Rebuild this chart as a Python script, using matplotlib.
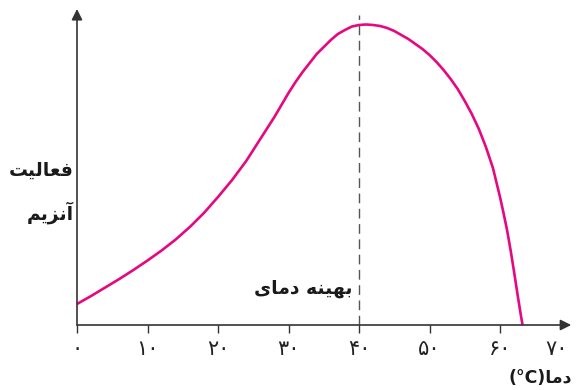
import numpy as np
import matplotlib.pyplot as plt

# داده‌ها (از روی شکل خوانده شده)
dama = [0, 2, 4, 6, 8, 10, 12, 14, 16, 18, 20, 22, 24, 26, 28, 30, 31, 32, 33, 34, 35, 36, 37,
        38, 39, 40, 41, 42, 43, 44, 45, 46, 47, 48, 49, 50, 51, 52, 53, 54, 55, 56, 57, 58,
        59, 60, 60.5, 61, 61.5, 62, 62.5, 63, 63.2]
faaliat = [21, 29, 37.5, 46, 55, 64.5, 74.5, 85.5, 98, 112, 128, 145, 164, 186, 208, 232, 243, 253, 262,
           271, 278, 285, 291, 295, 298.5, 300, 300.5, 300, 299, 297, 294, 290, 286, 281, 276,
           270, 263, 255, 246, 236, 224, 211, 196, 178, 157, 128, 112, 95, 75, 53, 30, 8, 0]
xticks = [0, 10, 20, 30, 40, 50, 60]
xlabels = ["۰", "۱۰", "۲۰", "۳۰", "۴۰", "۵۰", "۶۰"]
last_label = "۷۰"
optimum = 40

# شکل‌دهی ساده حروف فارسی (matplotlib خودش اتصال حروف را انجام نمی‌دهد)
forms = {
    "ف": ("\uFED1", "\uFED2", "\uFED3", "\uFED4"),
    "ع": ("\uFEC9", "\uFECA", "\uFECB", "\uFECC"),
    "ا": ("\uFE8D", "\uFE8E", None, None),
    "آ": ("\uFE81", "\uFE82", None, None),
    "ل": ("\uFEDD", "\uFEDE", "\uFEDF", "\uFEE0"),
    "ی": ("\uFBFC", "\uFBFD", "\uFBFE", "\uFBFF"),
    "ت": ("\uFE95", "\uFE96", "\uFE97", "\uFE98"),
    "ن": ("\uFEE5", "\uFEE6", "\uFEE7", "\uFEE8"),
    "ز": ("\uFEAF", "\uFEB0", None, None),
    "م": ("\uFEE1", "\uFEE2", "\uFEE3", "\uFEE4"),
    "د": ("\uFEA9", "\uFEAA", None, None),
    "ب": ("\uFE8F", "\uFE90", "\uFE91", "\uFE92"),
    "ه": ("\uFEE9", "\uFEEA", "\uFEEB", "\uFEEC"),
}


def fa(s):
    out = []
    for i, c in enumerate(s):
        if c not in forms:
            out.append(c)
            continue
        prev = s[i - 1] if i > 0 else ""
        nxt = s[i + 1] if i + 1 < len(s) else ""
        jp = prev in forms and forms[prev][2] is not None
        jn = forms[c][2] is not None and nxt in forms
        f = forms[c]
        if jp and jn:
            out.append(f[3])
        elif jp:
            out.append(f[1])
        elif jn:
            out.append(f[2])
        else:
            out.append(f[0])
    return "".join(out[::-1])


W, H = 576, 390
fig = plt.figure(figsize=(W / 100, H / 100), dpi=100)
ax = fig.add_axes([77 / W, (H - 325) / H, 70.5 * 7.05 / W, 320 / H])
ax.set_xlim(0, 70.5)
ax.set_ylim(0, 320)
for s in ax.spines.values():
    s.set_visible(False)

axc = "#333333"
ax.annotate("", xy=(70.1, 0), xytext=(0, 0),
            arrowprops=dict(arrowstyle="-|>", color=axc, lw=1.2, mutation_scale=16, shrinkA=0, shrinkB=0),
            annotation_clip=False)
ax.annotate("", xy=(0, 316), xytext=(0, 0),
            arrowprops=dict(arrowstyle="-|>", color=axc, lw=1.2, mutation_scale=16, shrinkA=0, shrinkB=0),
            annotation_clip=False)

ax.plot([optimum, optimum], [0, 310], color="#555555", lw=1.0, dashes=(7, 4))
ax.plot(dama, faaliat, color="#e6087f", lw=1.9, solid_capstyle="butt", clip_on=False)

ax.set_xticks(xticks)
ax.set_xticklabels(xlabels, fontsize=15, fontfamily="DejaVu Sans")
ax.tick_params(axis="x", direction="out", length=6, width=1.0, color=axc, pad=4, labelcolor="#222222")
ax.set_yticks([])
ax.text(68.1, -24, last_label, fontsize=15, ha="center", va="center", color="#222222")

bold = dict(fontweight="bold", color="#1a1a1a", fontfamily="DejaVu Sans")
fig.text(74 / W, 1 - 170 / H, fa("فعالیت"), ha="right", va="center", fontsize=13.5, **bold)
fig.text(74 / W, 1 - 213 / H, fa("آنزیم"), ha="right", va="center", fontsize=13.5, **bold)
fig.text(352 / W, 1 - 288 / H, fa("دمای") + " " + fa("بهینه"), ha="right", va="center", fontsize=13.5, **bold)
fig.text(572 / W, 1 - 378 / H, "(°C)" + fa("دما"), ha="right", va="center", fontsize=12.5, **bold)

fig.savefig("out.png", dpi=100)
